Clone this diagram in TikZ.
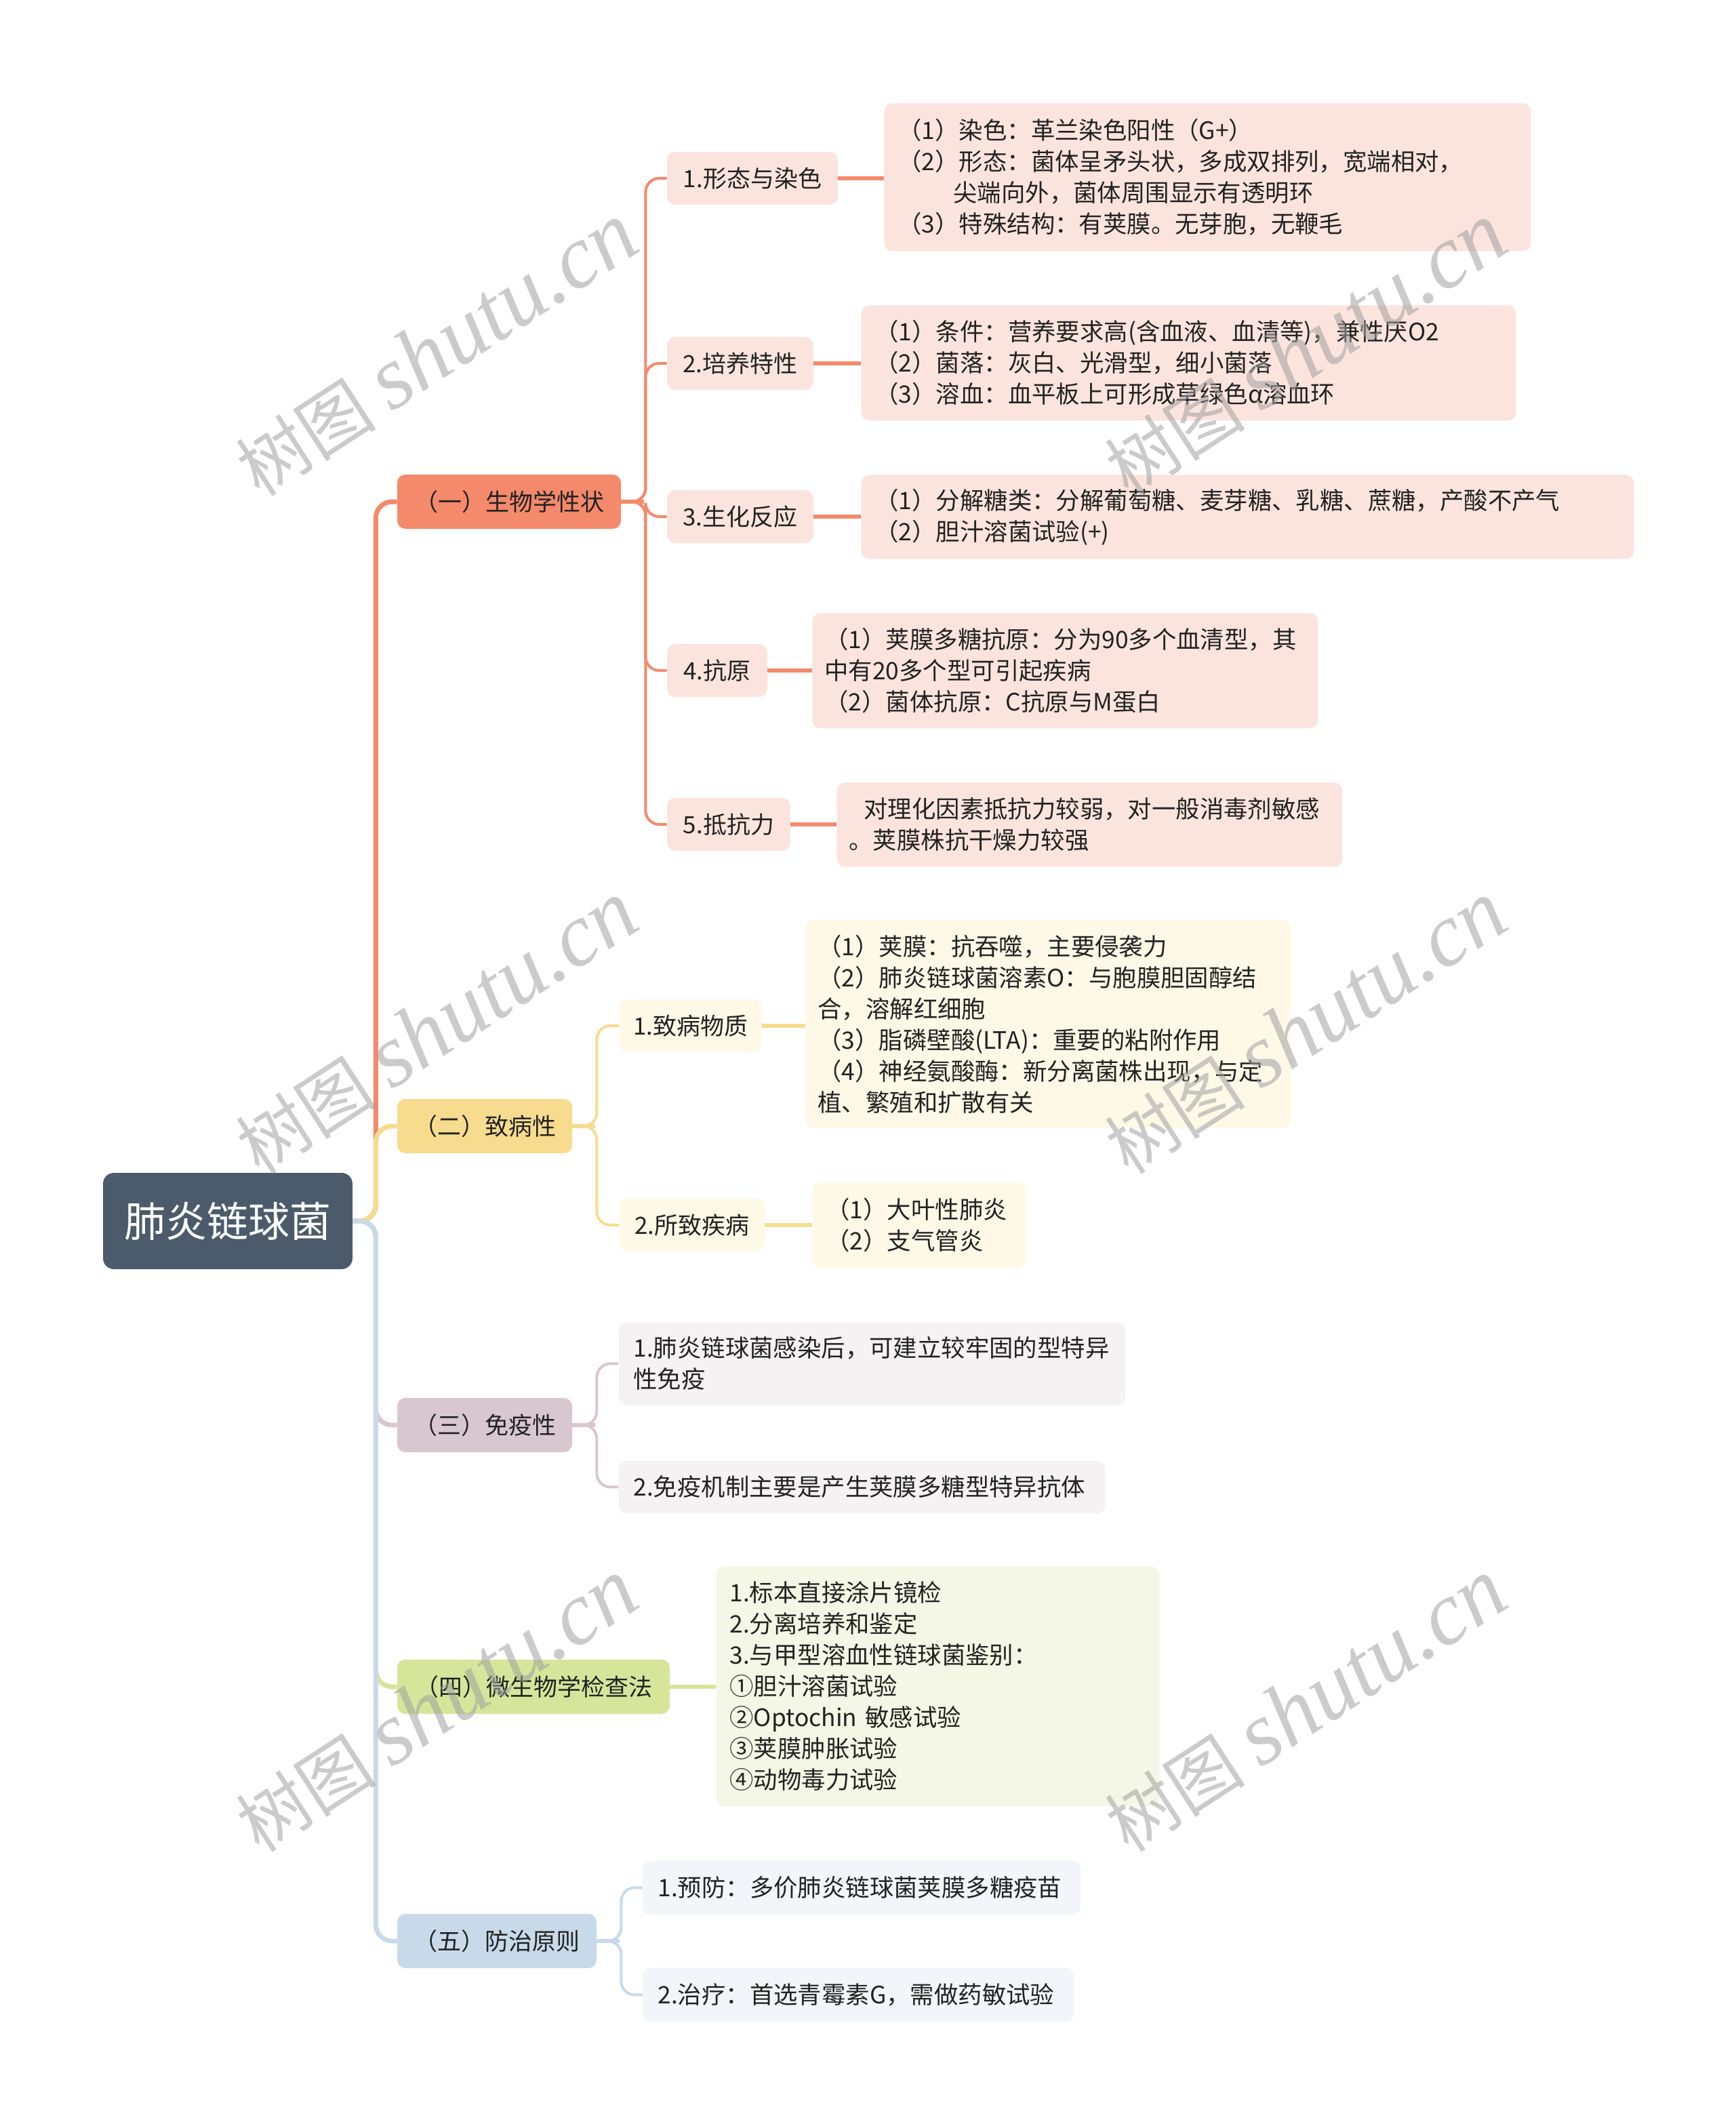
\documentclass[tikz,border=0pt]{standalone}
\usepackage{fontspec}
\setmainfont{Noto Sans CJK SC}
\newfontfamily\wmlat{Liberation Serif}
\definecolor{rootc}{HTML}{4B5B6B}
\definecolor{txt}{HTML}{222222}
\definecolor{ca}{HTML}{F4896B}
\definecolor{cal}{HTML}{FCE4DE}
\definecolor{cb}{HTML}{F7DC8F}
\definecolor{cbl}{HTML}{FEF8E7}
\definecolor{cc}{HTML}{D9C7CF}
\definecolor{ccl}{HTML}{F6F1F3}
\definecolor{cd}{HTML}{D7E59B}
\definecolor{cdl}{HTML}{F4F7E5}
\definecolor{ce}{HTML}{C8DAEA}
\definecolor{cel}{HTML}{F2F6FA}
\definecolor{wmc}{HTML}{A0A0A0}
\begin{document}
\begin{tikzpicture}[x=1pt,y=-1pt,
  box/.style={rounded corners=6pt, inner sep=0pt, text=txt, font=\fontsize{17.5}{23}\selectfont},
  rootbox/.style={rounded corners=8pt, inner sep=0pt, fill=rootc, text=white, font=\fontsize{30.5}{36}\selectfont, minimum width=184pt, minimum height=71pt},
  lonebox/.style={box, minimum height=40pt},
  ltwobox/.style={box, minimum height=39pt},
  detail/.style={box, anchor=north west, align=left, inner xsep=10pt, font=\fontsize{17.7}{23}\selectfont},
  rootline/.style={line width=3.5pt, rounded corners=12pt},
  subline/.style={line width=2pt, rounded corners=10pt},
  stubline/.style={line width=3pt},
  wm/.style={text=wmc, text opacity=0.55, font=\fontsize{52}{60}\selectfont, rotate=33, inner sep=0pt}
]
\useasboundingbox (0,0) rectangle (1280,1565);

% root
\node[rootbox] (root) at (168,900.5) {肺炎链球菌};

% level 1
\node[lonebox, fill=ca, minimum width=165pt] (a1) at (375.5,370) {（一）生物学性状};
\node[lonebox, fill=cb, minimum width=129pt] (a2) at (357.5,830.5) {（二）致病性};
\node[lonebox, fill=cc, minimum width=129pt] (a3) at (357.5,1051) {（三）免疫性};
\node[lonebox, fill=cd, minimum width=201pt] (a4) at (393.5,1244) {（四）微生物学检查法};
\node[lonebox, fill=ce, minimum width=147pt] (a5) at (366.5,1431.5) {（五）防治原则};

% level 2 under (一)
\node[ltwobox, fill=cal, minimum width=126pt] (b1) at (555,131.5) {1.形态与染色};
\node[ltwobox, fill=cal, minimum width=108pt] (b2) at (546,268) {2.培养特性};
\node[ltwobox, fill=cal, minimum width=108pt] (b3) at (546,381) {3.生化反应};
\node[ltwobox, fill=cal, minimum width=74pt] (b4) at (529,494.5) {4.抗原};
\node[ltwobox, fill=cal, minimum width=91pt] (b5) at (537.5,608) {5.抵抗力};

% details under (一)
\node[detail, fill=cal, text width=457pt, minimum height=109pt] (d1) at (652,76) {（1）染色：革兰染色阳性（G+）\\（2）形态：菌体呈矛头状，多成双排列，宽端相对，\\\hspace*{41pt}尖端向外，菌体周围显示有透明环\\（3）特殊结构：有荚膜。无芽胞，无鞭毛};
\node[detail, fill=cal, text width=463pt, minimum height=85pt] (d2) at (635,225) {（1）条件：营养要求高(含血液、血清等)，兼性厌O2\\（2）菌落：灰白、光滑型，细小菌落\\（3）溶血：血平板上可形成草绿色α溶血环};
\node[detail, fill=cal, text width=550pt, minimum height=62pt] (d3) at (635,350) {（1）分解糖类：分解葡萄糖、麦芽糖、乳糖、蔗糖，产酸不产气\\（2）胆汁溶菌试验(+)};
\node[detail, fill=cal, text width=355pt, inner xsep=9pt, minimum height=85pt] (d4) at (599,452) {（1）荚膜多糖抗原：分为90多个血清型，其\\中有20多个型可引起疾病\\（2）菌体抗原：C抗原与M蛋白};
\node[detail, fill=cal, text width=355pt, inner xsep=9pt, minimum height=62pt] (d5) at (617,577) {\hspace*{11pt}对理化因素抵抗力较弱，对一般消毒剂敏感\\。荚膜株抗干燥力较强};

% level 2 under (二)
\node[ltwobox, fill=cbl, minimum width=105pt] (c1) at (509.5,756.5) {1.致病物质};
\node[ltwobox, fill=cbl, minimum width=107pt] (c2) at (510.5,903.5) {2.所致疾病};
\node[detail, fill=cbl, text width=340pt, inner xsep=9pt, minimum height=154pt] (d6) at (594,678) {（1）荚膜：抗吞噬，主要侵袭力\\（2）肺炎链球菌溶素O：与胞膜胆固醇结\\合，溶解红细胞\\（3）脂磷壁酸(LTA)：重要的粘附作用\\（4）神经氨酸酶：新分离菌株出现，与定\\植、繁殖和扩散有关};
\node[detail, fill=cbl, text width=137pt, minimum height=63pt] (d7) at (599,872) {（1）大叶性肺炎\\（2）支气管炎};

% under (三)
\node[detail, fill=ccl, text width=352pt, inner xsep=11pt, minimum height=61pt] (f1) at (456,975) {1.肺炎链球菌感染后，可建立较牢固的型特异\\性免疫};
\node[detail, fill=ccl, text width=337pt, inner xsep=11pt, minimum height=39pt] (f2) at (456,1077) {2.免疫机制主要是产生荚膜多糖型特异抗体};

% under (四)
\node[detail, fill=cdl, text width=307pt, minimum height=177pt] (g1) at (528,1155) {1.标本直接涂片镜检\\2.分离培养和鉴定\\3.与甲型溶血性链球菌鉴别：\\①胆汁溶菌试验\\②Optochin 敏感试验\\③荚膜肿胀试验\\④动物毒力试验};

% under (五)
\node[detail, fill=cel, text width=301pt, inner xsep=11pt, minimum height=40pt] (h1) at (474,1372) {1.预防：多价肺炎链球菌荚膜多糖疫苗};
\node[detail, fill=cel, text width=296pt, inner xsep=11pt, minimum height=40pt] (h2) at (474,1451) {2.治疗：首选青霉素G，需做药敏试验};

% connectors root -> level 1
\draw[rootline, ca] (root.east) -- ++(17,0) |- (a1.west);
\draw[rootline, cb] (root.east) -- ++(17,0) |- (a2.west);
\draw[rootline, cc] (root.east) -- ++(17,0) |- (a3.west);
\draw[rootline, cd] (root.east) -- ++(17,0) |- (a4.west);
\draw[rootline, ce] (root.east) -- ++(17,0) |- (a5.west);

% (一) -> level 2
\foreach \k in {b1,b2,b3,b4,b5}{
  \draw[subline, ca] (a1.east) -- ++(18,0) |- (\k.west);
}
\draw[stubline, ca] (a1.east) -- ++(17,0);
\draw[stubline, ca] (b1.east) -- (b1.east -| d1.west);
\draw[stubline, ca] (b2.east) -- (b2.east -| d2.west);
\draw[stubline, ca] (b3.east) -- (b3.east -| d3.west);
\draw[stubline, ca] (b4.east) -- (b4.east -| d4.west);
\draw[stubline, ca] (b5.east) -- (b5.east -| d5.west);

% (二)
\draw[subline, cb] (a2.east) -- ++(18,0) |- (c1.west);
\draw[subline, cb] (a2.east) -- ++(18,0) |- (c2.west);
\draw[stubline, cb] (a2.east) -- ++(17,0);
\draw[stubline, cb] (c1.east) -- (c1.east -| d6.west);
\draw[stubline, cb] (c2.east) -- (c2.east -| d7.west);

% (三)
\draw[subline, cc] (a3.east) -- ++(18,0) |- (f1.west);
\draw[subline, cc] (a3.east) -- ++(18,0) |- (f2.west);
\draw[stubline, cc] (a3.east) -- ++(17,0);

% (四)
\draw[stubline, cd] (a4.east) -- (a4.east -| g1.west);

% (五)
\draw[subline, ce] (a5.east) -- ++(18,0) |- (h1.west);
\draw[subline, ce] (a5.east) -- ++(18,0) |- (h2.west);
\draw[stubline, ce] (a5.east) -- ++(17,0);

% watermarks
\node[wm] (w1) at (322,258) {树图 {\wmlat\itshape\fontsize{66}{70}\selectfont shutu.cn}};
\node[wm] (w2) at (963,258) {树图 {\wmlat\itshape\fontsize{66}{70}\selectfont shutu.cn}};
\node[wm] (w3) at (322,758) {树图 {\wmlat\itshape\fontsize{66}{70}\selectfont shutu.cn}};
\node[wm] (w4) at (963,758) {树图 {\wmlat\itshape\fontsize{66}{70}\selectfont shutu.cn}};
\node[wm] (w5) at (322,1258) {树图 {\wmlat\itshape\fontsize{66}{70}\selectfont shutu.cn}};
\node[wm] (w6) at (963,1258) {树图 {\wmlat\itshape\fontsize{66}{70}\selectfont shutu.cn}};
\end{tikzpicture}
\end{document}
